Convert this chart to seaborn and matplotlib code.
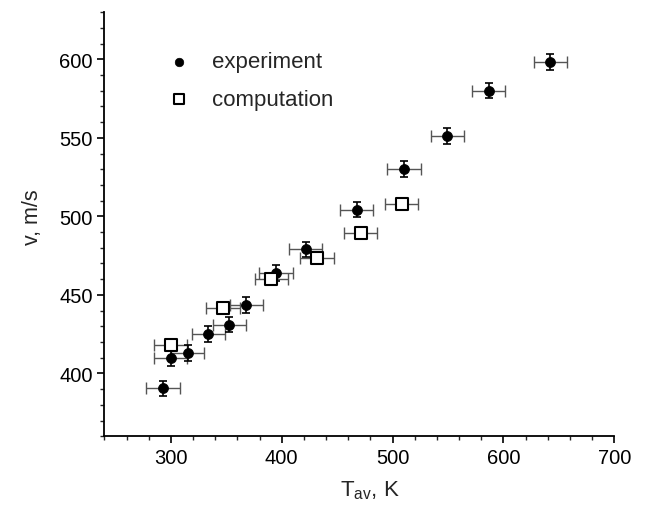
import matplotlib
matplotlib.use("Agg")
import matplotlib.pyplot as plt
import seaborn as sns
import pandas as pd
from matplotlib.ticker import MultipleLocator

# Data
exp_T = [292.8, 300.0, 315.1, 333.9, 352.8, 368.2, 394.9, 421.6, 467.5, 510.2, 549.2, 586.6, 642.2]
exp_v = [390.4, 409.8, 412.8, 425.1, 431.1, 443.4, 463.9, 479.0, 504.3, 530.1, 551.4, 580.1, 598.4]
comp_T = [300.0, 347.1, 390.5, 431.7, 471.2, 508.3]
comp_v = [417.9, 441.5, 460.0, 473.2, 489.2, 508.2]
T_err = 15
v_err = 5

sns.set_style("ticks")
plt.rcParams['font.family'] = ['Liberation Sans', 'DejaVu Sans']
plt.rcParams['mathtext.default'] = 'regular'

df = pd.concat([
    pd.DataFrame({'T': exp_T, 'v': exp_v, 'kind': 'experiment'}),
    pd.DataFrame({'T': comp_T, 'v': comp_v, 'kind': 'computation'}),
], ignore_index=True)

fig = plt.figure(figsize=(6.46, 5.10), dpi=100)
ax = fig.add_axes([0.1615, 0.1427, 0.7895, 0.8313])

# horizontal error bars (grey)
ax.errorbar(exp_T, exp_v, xerr=T_err, fmt='none', ecolor='#555555', elinewidth=1.0,
            capsize=4.3, capthick=1.0, zorder=2)
ax.errorbar(comp_T, comp_v, xerr=T_err, fmt='none', ecolor='#555555', elinewidth=1.0,
            capsize=4.3, capthick=1.0, zorder=2)
# vertical error bars (black) on experiment
ax.errorbar(exp_T, exp_v, yerr=v_err, fmt='none', ecolor='black', elinewidth=1.2,
            capsize=3.2, capthick=1.2, zorder=3)

# markers via seaborn
sns.scatterplot(data=df[df.kind == 'experiment'], x='T', y='v', marker='o',
                color='black', edgecolor='black', linewidth=0.5, s=52, ax=ax,
                zorder=4, label='experiment')
sns.scatterplot(data=df[df.kind == 'computation'], x='T', y='v', marker='s',
                color='white', edgecolor='black', linewidth=1.5, s=64, ax=ax,
                zorder=4, label='computation')

ax.set_xlim(240, 700)
ax.set_ylim(360, 630)
ax.xaxis.set_major_locator(MultipleLocator(100))
ax.xaxis.set_minor_locator(MultipleLocator(20))
ax.yaxis.set_minor_locator(MultipleLocator(10))
ax.set_yticks([400, 450, 500, 550, 600])
ax.tick_params(which='major', direction='out', length=5, width=1.2, labelsize=14.5, colors='black')
ax.tick_params(which='minor', direction='out', length=3, width=1.0)
for s in ['top', 'right']:
    ax.spines[s].set_visible(False)
for s in ['left', 'bottom']:
    ax.spines[s].set_linewidth(1.3)
    ax.spines[s].set_color('black')

ax.set_xlabel('T$_{av}$, K', fontsize=16, labelpad=12)
ax.set_ylabel('v, m/s', fontsize=15.5, labelpad=12)
ax.xaxis.set_label_coords(0.52, -0.1)
ax.yaxis.set_label_coords(-0.12, 0.52)

leg = ax.legend(loc='upper left', bbox_to_anchor=(0.085, 0.955), frameon=False,
                fontsize=16, labelspacing=0.75, handletextpad=1.0, markerscale=0.85,
                handlelength=1.0)

fig.savefig('out.png', dpi=100)
